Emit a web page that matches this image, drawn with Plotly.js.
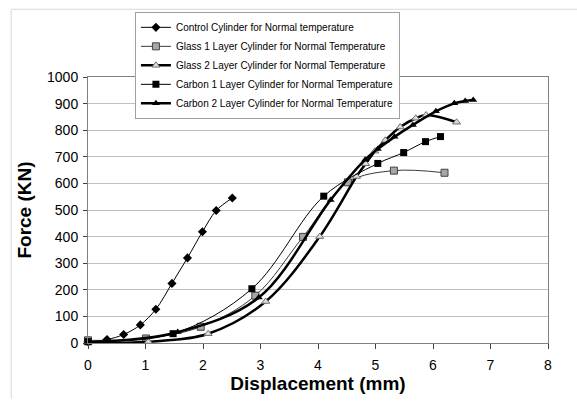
<!DOCTYPE html>
<html>
<head>
<meta charset="utf-8">
<script src="https://cdn.plot.ly/plotly-3.0.1.min.js"></script>
<style>
  html, body { margin: 0; padding: 0; background: #ffffff; }
  #chart { width: 577px; height: 402px; }
</style>
</head>
<body>
<div id="chart"></div>
<script>
// ---- Data ----
var seriesNames = [
  "Control Cylinder for Normal temperature",
  "Glass 1 Layer Cylinder for Normal Temperature",
  "Glass 2 Layer Cylinder for Normal Temperature",
  "Carbon 1 Layer Cylinder for Normal Temperature",
  "Carbon 2 Layer Cylinder for Normal Temperature"
];

var controlX = [0, 0.33, 0.62, 0.91, 1.18, 1.46, 1.73, 1.99, 2.23, 2.51];
var controlY = [5, 13, 32, 68, 127, 224, 320, 418, 498, 545];

var glass1X = [0, 1.01, 1.96, 2.91, 3.74, 4.52, 5.32, 6.20];
var glass1Y = [10, 17, 61, 178, 399, 604, 648, 640];

var glass2X = [0, 1.05, 2.09, 3.09, 4.03, 4.67, 4.83, 4.99, 5.17, 5.43, 5.70, 5.88, 6.41];
var glass2Y = [0, 5, 35, 156, 400, 626, 674, 721, 762, 812, 845, 857, 830];

var carbon1X = [0, 1.48, 2.85, 4.10, 5.04, 5.49, 5.87, 6.13];
var carbon1Y = [5, 35, 204, 552, 675, 716, 757, 776];

var carbon2X = [0, 1.56, 2.97, 4.22, 4.82, 5.04, 5.33, 5.65, 6.05, 6.37, 6.56, 6.70];
var carbon2Y = [3, 41, 171, 538, 689, 729, 775, 820, 871, 901, 910, 914];

var xTicks = [0, 1, 2, 3, 4, 5, 6, 7, 8];
var yTicks = [0, 100, 200, 300, 400, 500, 600, 700, 800, 900, 1000];

// ---- Traces ----
var FONT = "Liberation Sans, Arial, Helvetica, sans-serif";

var traces = [
  {
    x: controlX, y: controlY, name: seriesNames[0], type: "scatter", mode: "lines+markers",
    line: { color: "#000000", width: 1, shape: "spline", smoothing: 1 },
    marker: { symbol: "diamond", size: 7, color: "#000000" },
    cliponaxis: false
  },
  {
    x: glass1X, y: glass1Y, name: seriesNames[1], type: "scatter", mode: "lines+markers",
    line: { color: "#3a3a3a", width: 1, shape: "spline", smoothing: 1 },
    marker: { symbol: "square", size: 7, color: "#a6a6a6", line: { color: "#404040", width: 1 } },
    cliponaxis: false
  },
  {
    x: glass2X, y: glass2Y, name: seriesNames[2], type: "scatter", mode: "lines+markers",
    line: { color: "#000000", width: 2.5, shape: "spline", smoothing: 1 },
    marker: { symbol: "triangle-up", size: 7, color: "#dcdcdc", line: { color: "#707070", width: 1 } },
    cliponaxis: false
  },
  {
    x: carbon1X, y: carbon1Y, name: seriesNames[3], type: "scatter", mode: "lines+markers",
    line: { color: "#000000", width: 1, shape: "spline", smoothing: 1 },
    marker: { symbol: "square", size: 7, color: "#000000" },
    cliponaxis: false
  },
  {
    x: carbon2X, y: carbon2Y, name: seriesNames[4], type: "scatter", mode: "lines+markers",
    line: { color: "#000000", width: 2.5, shape: "spline", smoothing: 1 },
    marker: { symbol: "triangle-up", size: 7, color: "#000000" },
    cliponaxis: false
  }
];

var layout = {
  width: 577,
  height: 402,
  margin: { l: 88, r: 29, t: 72, b: 59, pad: 0 },
  paper_bgcolor: "#ffffff",
  plot_bgcolor: "#ffffff",
  font: { family: FONT, size: 14, color: "#000000" },
  showlegend: true,
  legend: {
    x: 0.102, xanchor: "left",
    y: 1.245, yanchor: "top",
    bgcolor: "#ffffff",
    bordercolor: "#a0a0a0",
    borderwidth: 1,
    font: { family: FONT, size: 10, color: "#000000" },
    tracegroupgap: 0
  },
  xaxis: {
    range: [0, 8],
    tickvals: xTicks,
    ticktext: xTicks.map(String),
    ticks: "outside", ticklen: 5, tickcolor: "#404040", tickwidth: 1,
    ticklabelstandoff: 4,
    showgrid: false, zeroline: false,
    showline: true, linecolor: "#808080", linewidth: 1, mirror: true,
    tickfont: { family: FONT, size: 14, color: "#000000" },
    title: { text: "Displacement (mm)", font: { family: FONT, size: 19, color: "#000000", weight: "bold" }, standoff: 4 },
    fixedrange: true
  },
  yaxis: {
    range: [0, 1000],
    tickvals: yTicks,
    ticktext: yTicks.map(String),
    ticks: "outside", ticklen: 4, tickcolor: "#404040", tickwidth: 1,
    ticklabelstandoff: 2,
    showgrid: true, gridcolor: "#c0c0c0", gridwidth: 1,
    zeroline: false,
    showline: true, linecolor: "#808080", linewidth: 1, mirror: true,
    tickfont: { family: FONT, size: 14, color: "#000000" },
    title: { text: "Force (KN)", font: { family: FONT, size: 19, color: "#000000", weight: "bold" }, standoff: 10 },
    fixedrange: true
  },
  shapes: [
    { type: "line", xref: "paper", yref: "paper", x0: -0.167, x1: 1.07, y0: 1.2546, y1: 1.2546,
      line: { color: "#d8d8d8", width: 1 }, layer: "below" },
    { type: "line", xref: "paper", yref: "paper", x0: -0.167, x1: -0.167, y0: 1.2546, y1: -0.21,
      line: { color: "#d8d8d8", width: 1 }, layer: "below" }
  ]
};

Plotly.newPlot("chart", traces, layout, { staticPlot: true, displayModeBar: false });
</script>
</body>
</html>
